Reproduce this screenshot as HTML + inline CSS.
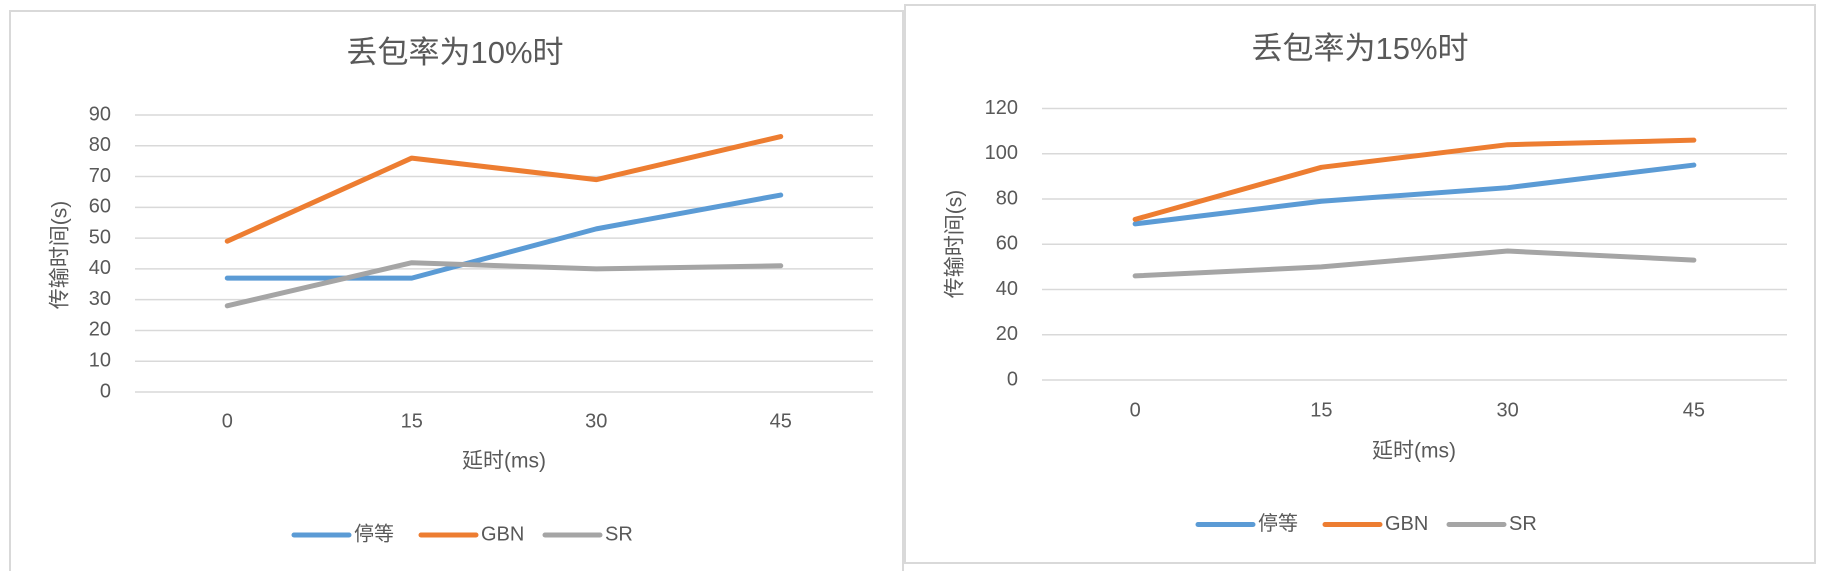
<!DOCTYPE html>
<html><head><meta charset="utf-8">
<style>
html,body{margin:0;padding:0;background:#fff;width:1827px;height:571px;overflow:hidden}
svg{position:absolute;left:0;top:0}
text{font-family:"Liberation Sans","Noto Sans CJK SC",sans-serif;fill:#595959}
</style></head>
<body>
<svg id="svg" width="1827" height="571"></svg>
<script>
const categories = ["0","15","30","45"];
const seriesNames = ["停等","GBN","SR"];
const colors = ["#5b9bd5","#ed7d31","#a5a5a5"];
const c1Stop = [37,37,53,64];
const c1GBN = [49,76,69,83];
const c1SR = [28,42,40,41];
const c1Ticks = [0,10,20,30,40,50,60,70,80,90];
const c2Stop = [69,79,85,95];
const c2GBN = [71,94,104,106];
const c2SR = [46,50,57,53];
const c2Ticks = [0,20,40,60,80,100,120];

const NS="http://www.w3.org/2000/svg";
const svg=document.getElementById('svg');
function mk(tag,attrs,parent){const e=document.createElementNS(NS,tag);for(const k in attrs)e.setAttribute(k,attrs[k]);(parent||svg).appendChild(e);return e;}

function chart(cfg){
  const g=mk('g',{});
  
  
  const box=mk('rect',{x:cfg.bx,y:cfg.by,width:cfg.bw,height:cfg.bh,fill:'#fff',stroke:'#d9d9d9','stroke-width':2},g);
  
  
  const t=mk('text',{x:cfg.titleX,y:cfg.titleY,'font-size':31,'text-anchor':'middle','dominant-baseline':'middle'},g);
  t.textContent=cfg.title;
  
  
  const maxV=cfg.ticks[cfg.ticks.length-1];
  const y=v=>cfg.y0-(v/maxV)*(cfg.y0-cfg.yTop);
  const step=(cfg.xR-cfg.xL)/categories.length;
  const x=i=>cfg.xL+step*(i+0.5);
  cfg.ticks.forEach(v=>{
    const l=mk('line',{x1:cfg.xL,x2:cfg.xR,y1:y(v),y2:y(v),stroke:'#d9d9d9','stroke-width':1.5},g);
    
    
    const tx=mk('text',{x:cfg.labR,y:y(v),'font-size':20,'text-anchor':'end','dominant-baseline':'middle'},g);
    tx.textContent=v;
    
    
  });
  categories.forEach((c,i)=>{
    const tx=mk('text',{x:x(i),y:cfg.xLabY,'font-size':20,'text-anchor':'middle','dominant-baseline':'middle'},g);
    tx.textContent=c;
    
    
  });
  const xt=mk('text',{x:cfg.xtX,y:cfg.xtY,'font-size':21,'text-anchor':'middle','dominant-baseline':'middle'},g);
  xt.textContent='延时(ms)';
  
  
  const yt=mk('text',{x:0,y:0,'font-size':21,'text-anchor':'middle','dominant-baseline':'middle',transform:`translate(${cfg.ytX},${cfg.ytY}) rotate(-90)`},g);
  yt.textContent='传输时间(s)';
  
  
  cfg.series.forEach((s,si)=>{
    const p=mk('polyline',{points:s.map((v,i)=>x(i)+','+y(v)).join(' '),fill:'none',stroke:colors[si],'stroke-width':5,'stroke-linejoin':'round','stroke-linecap':'round'},g);
    
    
  });
  cfg.legend.forEach((lx,si)=>{
    const l=mk('line',{x1:lx,x2:lx+55,y1:cfg.legY,y2:cfg.legY,stroke:colors[si],'stroke-width':5,'stroke-linecap':'round'},g);
    
    
    const tx=mk('text',{x:lx+60,y:cfg.legY,'font-size':20,'dominant-baseline':'middle'},g);
    tx.textContent=seriesNames[si];
    
    
  });
}
chart({name:'chart-loss-10',bx:10,by:11,bw:893,bh:570,title:'丢包率为10%时',titleX:455,titleY:55,
  ticks:c1Ticks,y0:392,yTop:115,xL:135,xR:873,labR:111,xLabY:422,xtX:504,xtY:462,ytX:61,ytY:255,
  series:[c1Stop,c1GBN,c1SR],legend:[294,421,545],legY:535});
chart({name:'chart-loss-15',bx:905,by:5,bw:910,bh:558,title:'丢包率为15%时',titleX:1360,titleY:51,
  ticks:c2Ticks,y0:380,yTop:108.5,xL:1042,xR:1787,labR:1018,xLabY:411,xtX:1414,xtY:452,ytX:956,ytY:244,
  series:[c2Stop,c2GBN,c2SR],legend:[1198,1325,1449],legY:524.5});
</script>
</body></html>
